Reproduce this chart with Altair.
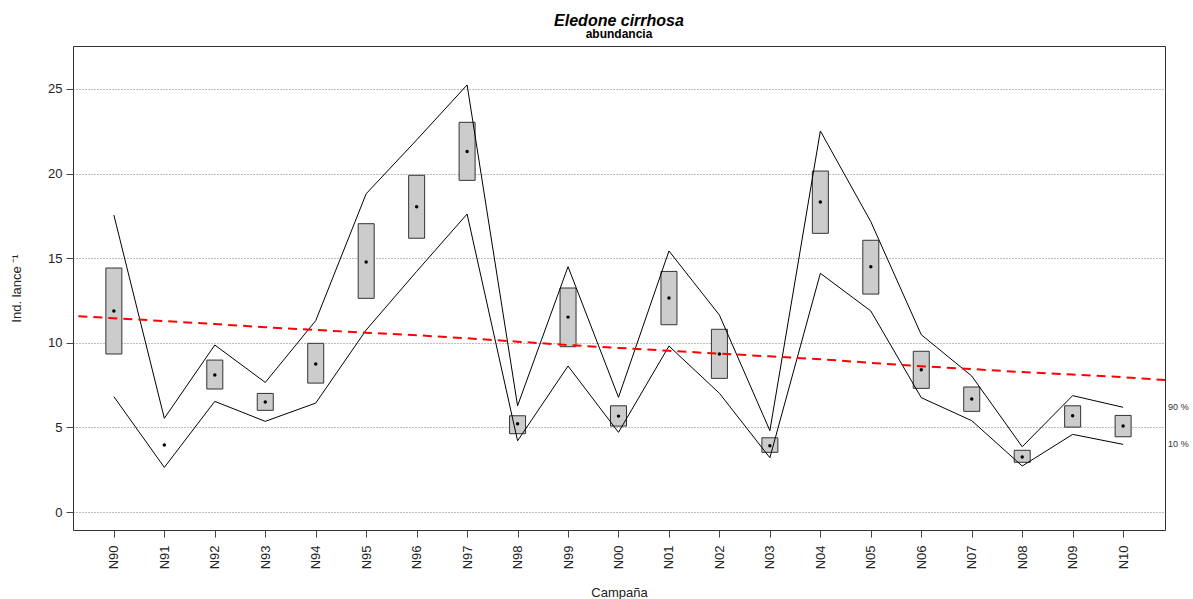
import altair as alt
import pandas as pd

# Survey campaigns (x axis)
campaigns = ["N90", "N91", "N92", "N93", "N94", "N95", "N96", "N97", "N98", "N99", "N00",
             "N01", "N02", "N03", "N04", "N05", "N06", "N07", "N08", "N09", "N10"]

# Mean abundance and its standard-error box per campaign (N91 has no spread)
mean_vals = [11.88, 3.96, 8.10, 6.50, 8.75, 14.78, 18.04, 21.30, 5.22, 11.52, 5.67,
             12.65, 9.34, 3.92, 18.32, 14.50, 8.41, 6.68, 3.25, 5.69, 5.08]
box_high = [14.42, None, 8.98, 7.01, 9.97, 17.04, 19.90, 23.03, 5.69, 13.24, 6.28,
            14.22, 10.80, 4.39, 20.15, 16.06, 9.50, 7.39, 3.65, 6.28, 5.71]
box_low = [9.34, None, 7.27, 6.01, 7.62, 12.63, 16.18, 19.60, 4.63, 9.77, 5.08,
           11.07, 7.90, 3.53, 16.47, 12.88, 7.31, 5.95, 2.94, 5.02, 4.45]

# Bootstrap percentiles
p90 = [17.55, 5.54, 9.87, 7.66, 11.31, 18.81, 21.99, 25.24, 6.28, 14.50, 6.78,
       15.43, 11.64, 4.81, 22.52, 17.16, 10.48, 8.04, 3.86, 6.88, 6.19]
p10 = [6.82, 2.64, 6.54, 5.36, 6.44, 10.76, 14.22, 17.61, 4.21, 8.63, 4.71,
       9.81, 7.02, 3.21, 14.11, 11.88, 6.76, 5.40, 2.72, 4.59, 4.00]

# Smoothed trend, including one step beyond each end of the series
trend_idx = list(range(-1, 22))
trend_vals = [11.63, 11.45, 11.29, 11.11, 10.92, 10.76, 10.60, 10.45, 10.27, 10.07, 9.87, 9.70,
              9.53, 9.36, 9.20, 9.03, 8.82, 8.62, 8.45, 8.27, 8.13, 7.97, 7.77]

idx = list(range(len(campaigns)))
df = pd.DataFrame({"idx": idx, "camp": campaigns, "mean": mean_vals,
                   "hi": box_high, "lo": box_low, "p90": p90, "p10": p10})
trend = pd.DataFrame({"idx": trend_idx, "trend": trend_vals})
pct_labels = pd.DataFrame({"idx": [20, 20], "val": [p90[-1], p10[-1]], "lab": ["90 %", "10 %"]})

label_array = "[" + ",".join("'" + c + "'" for c in campaigns) + "]"
FONT = "Liberation Sans"

xscale = alt.Scale(domain=[-0.81, 20.83], nice=False, zero=False, padding=0)
yscale = alt.Scale(domain=[-1.06, 27.54], nice=False, zero=False, padding=0)

x_axis = alt.Axis(values=idx, labelExpr=label_array + "[datum.value]", labelAngle=-90,
                  title="Campaña", grid=False, tickSize=7, labelPadding=8,
                  titlePadding=18, domain=False)
y_axis = alt.Axis(values=[0, 5, 10, 15, 20, 25], title="Ind. lance ⁻¹", grid=True,
                  gridDash=[1, 2], gridColor="#555555", gridWidth=0.8, tickSize=7,
                  labelPadding=4, titlePadding=24, domain=False)

base = alt.Chart(df)

boxes = base.transform_filter("isValid(datum.hi)").mark_bar(
    size=16, color="#cccccc", stroke="#333333", strokeWidth=1).encode(
    x=alt.X("idx:Q", scale=xscale, axis=x_axis),
    y=alt.Y("lo:Q", scale=yscale, axis=y_axis),
    y2="hi:Q",
)

line90 = base.mark_line(color="black", strokeWidth=1).encode(
    x=alt.X("idx:Q", scale=xscale), y=alt.Y("p90:Q", scale=yscale))
line10 = base.mark_line(color="black", strokeWidth=1).encode(
    x=alt.X("idx:Q", scale=xscale), y=alt.Y("p10:Q", scale=yscale))

dots = base.mark_point(filled=True, color="black", size=12, opacity=1).encode(
    x=alt.X("idx:Q", scale=xscale), y=alt.Y("mean:Q", scale=yscale))

trend_line = alt.Chart(trend).mark_line(color="#ff0000", strokeWidth=2, strokeDash=[9, 6],
                                        clip=True).encode(
    x=alt.X("idx:Q", scale=xscale), y=alt.Y("trend:Q", scale=yscale))

pct_text = alt.Chart(pct_labels).mark_text(align="left", baseline="middle", dx=45,
                                           fontSize=9, font=FONT, color="#333333").encode(
    x=alt.X("idx:Q", scale=xscale), y=alt.Y("val:Q", scale=yscale), text="lab:N")

chart = alt.layer(boxes, line90, line10, trend_line, dots, pct_text).properties(
    width=1092, height=484,
    autosize=alt.AutoSizeParams(type="none"),
    padding={"left": 73, "top": 46, "right": 28, "bottom": 69},
    background="white",
    title=alt.TitleParams(text="Eledone cirrhosa", subtitle="abundancia", anchor="middle",
                          font=FONT, fontSize=16, fontStyle="italic", fontWeight="bold",
                          subtitleFont=FONT, subtitleFontSize=12, subtitleFontWeight="bold",
                          subtitleColor="black", color="black", offset=6, subtitlePadding=0),
).configure_view(stroke="#333333", strokeWidth=1).configure_axis(
    labelFont=FONT, titleFont=FONT, labelFontSize=13, titleFontSize=13,
    labelColor="#222222", titleColor="#222222", titleFontWeight="normal",
    tickColor="#444444",
)

chart.save("out.html", embed_options={"renderer": "svg", "actions": False})
